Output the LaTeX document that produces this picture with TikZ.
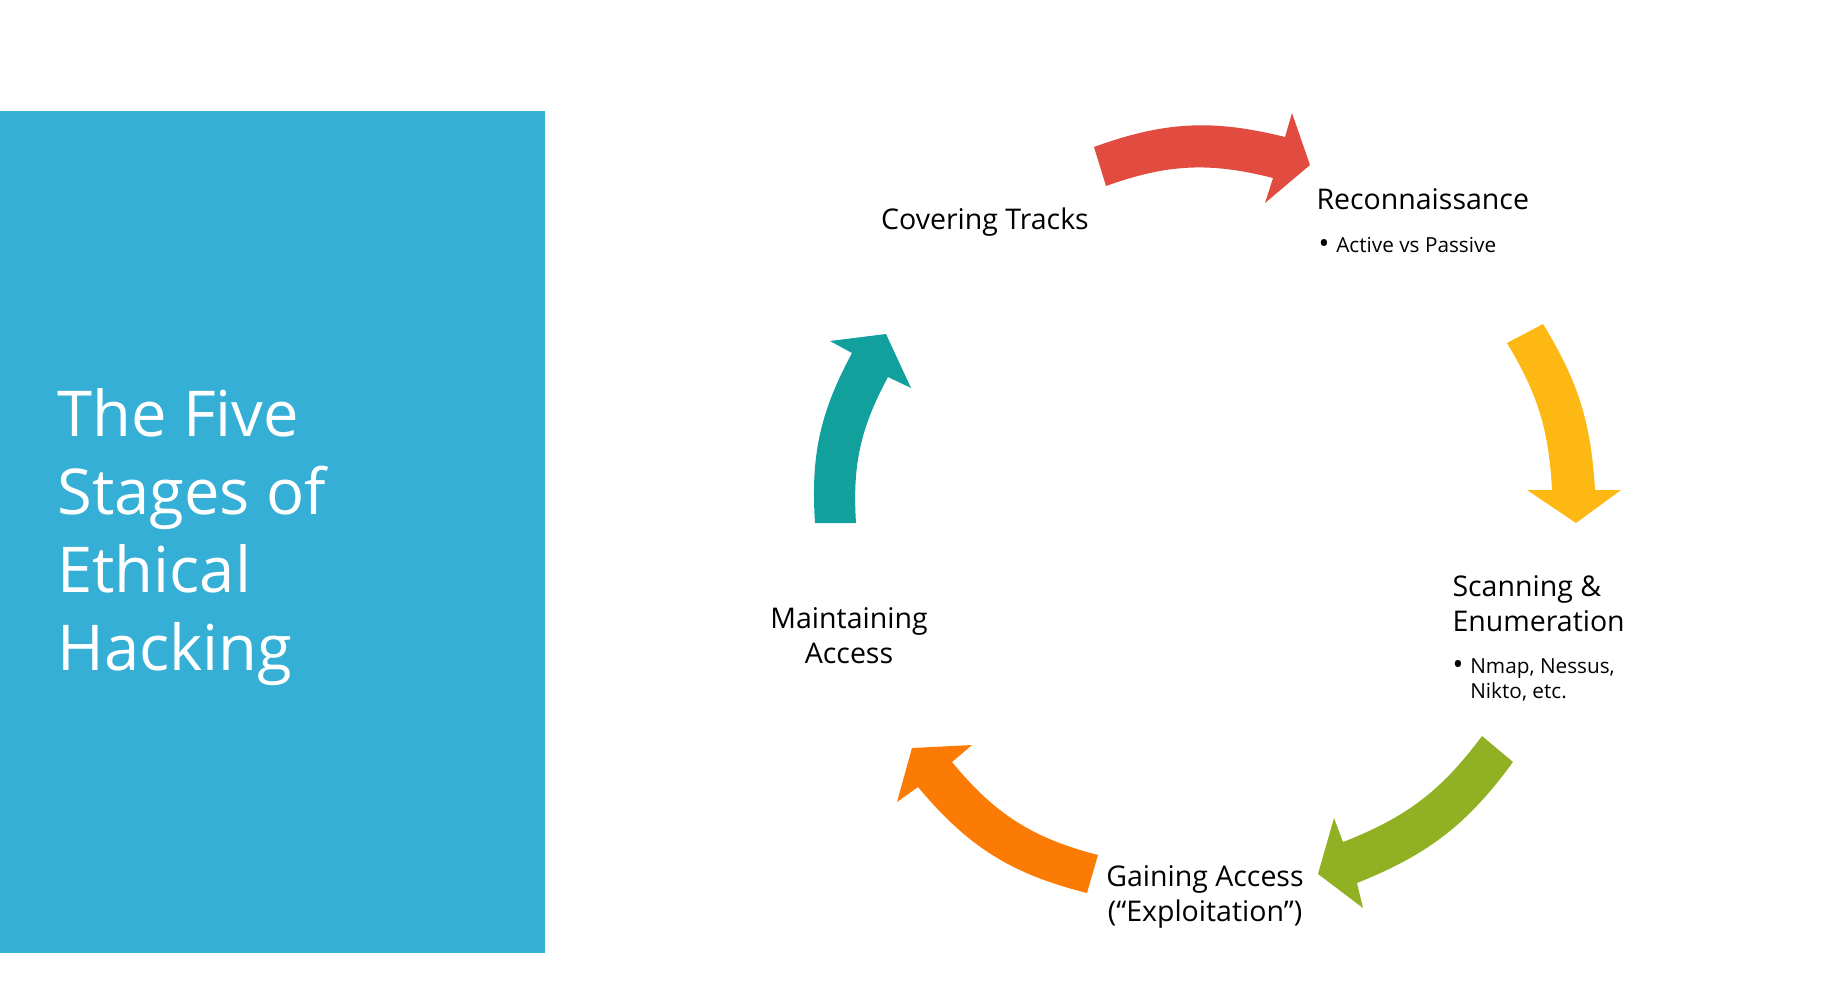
\documentclass[tikz,border=0pt]{standalone}
\usepackage{fontspec}
\setmainfont{Open Sans}
\usetikzlibrary{positioning}
\definecolor{panelblue}{HTML}{36AFD6}
\definecolor{arrowred}{HTML}{E24B3F}
\definecolor{arrowamber}{HTML}{FDB813}
\definecolor{arrowgreen}{HTML}{92B024}
\definecolor{arroworange}{HTML}{FB7B05}
\definecolor{arrowteal}{HTML}{11A09B}
\tikzstyle{title_node} = [text=white, inner sep=0pt, align=left, font=\fontsize{25.3}{31.1}\selectfont]
\tikzstyle{label_node} = [text=black, inner sep=0pt, font=\fontsize{11.4}{14}\selectfont]
\tikzstyle{note_node} = [text=black, inner sep=0pt, align=left, font=\fontsize{8.3}{10}\selectfont]
\tikzstyle{cycle_arrow} = [line join=miter]
\newcommand{\notebullet}{\makebox[0.86em][l]{\raisebox{-0.6pt}{\fontsize{11.5}{11.5}\selectfont\textbullet}}}

\begin{document}
\begin{tikzpicture}[x=0.4pt, y=0.4pt]
    \useasboundingbox (0,0) rectangle (1829,-1002);
    \fill[panelblue] (0,-111) rectangle (545,-953);
    \node (title) [title_node, anchor=base west] at (57,-670) {The Five\\Stages of\\Ethical\\Hacking};

    % stage labels
    \node (cover) [label_node, anchor=base] at (985,-229) {Covering Tracks};
    \node (recon) [label_node, anchor=base west] at (1316,-209) {Reconnaissance};
    \node (recon_note) [note_node, anchor=base west] at (1318,-252) {\notebullet Active vs Passive};
    \node (scan) [label_node, anchor=base west, align=left] at (1452,-631) {Scanning \&\\Enumeration};
    \node (scan_note) [note_node, anchor=base west] at (1452,-698) {\notebullet Nmap, Nessus,\\\hspace*{0.86em}Nikto, etc.};
    \node (gain) [label_node, anchor=base, align=center] at (1205,-921) {Gaining Access\\(“Exploitation”)};
    \node (maint) [label_node, anchor=base, align=center] at (849,-663) {Maintaining\\Access};

    % curved arrows
    \fill[cycle_arrow, arrowred] (1094,-147) to[bend left=17] (1285,-137) -- (1292,-113) -- (1310,-165)
        -- (1265,-203) -- (1273,-178) to[bend right=17] (1106,-186) -- cycle;
    \fill[cycle_arrow, arrowamber] (1543,-324) to[bend left=14] (1595,-490) -- (1621,-490) -- (1576,-523)
        -- (1527,-490) -- (1552,-490) to[bend right=14] (1507,-343) -- cycle;
    \fill[cycle_arrow, arrowgreen] (1513,-762) to[bend left=16] (1357,-883) -- (1363,-908) -- (1318,-874)
        -- (1334,-818) -- (1343,-842) to[bend right=16] (1482,-736) -- cycle;
    \fill[cycle_arrow, arroworange] (1087,-893) to[bend left=18] (918,-787) -- (897,-802) -- (912,-748)
        -- (972,-745) -- (952,-762) to[bend right=18] (1098,-855) -- cycle;
    \fill[cycle_arrow, arrowteal] (815,-523) to[bend left=16] (852,-353) -- (830,-341) -- (886,-334)
        -- (911,-388) -- (888,-377) to[bend right=16] (856,-523) -- cycle;
\end{tikzpicture}
\end{document}
